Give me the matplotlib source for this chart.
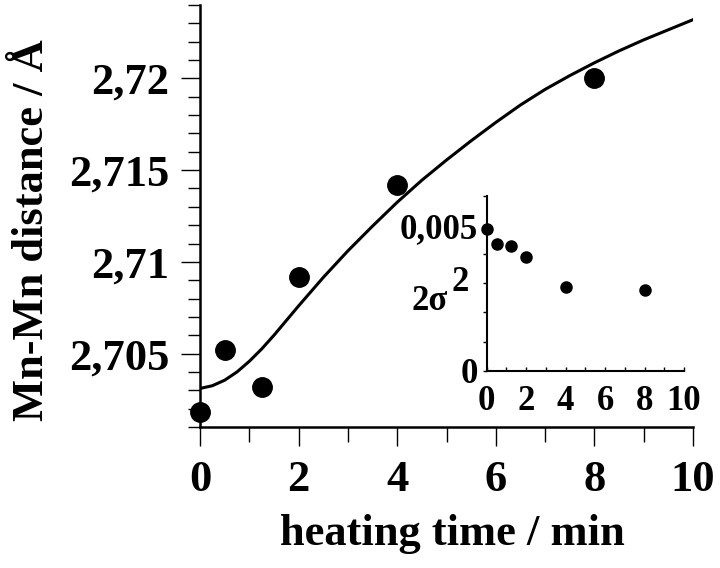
import matplotlib
matplotlib.use('Agg')
import matplotlib.pyplot as plt

plt.rcParams['font.family'] = ['Liberation Serif', 'DejaVu Serif']
plt.rcParams['font.weight'] = 'bold'

# main plot: Mn-Mn distance vs heating time
time_pts = [0, 0.5, 1.25, 2, 4, 8]
dist_pts = [2.7018, 2.7052, 2.7032, 2.7092, 2.7142, 2.7200]

# fitted curve
fit_t = [0, 0.25, 0.5, 0.75, 1, 1.25, 1.5, 1.75, 2, 2.5, 3, 3.5,
         4, 4.5, 5, 5.5, 6, 6.5, 7, 7.5, 8, 8.5, 9, 9.5, 10]
fit_d = [2.70310, 2.70325, 2.70355, 2.70400, 2.70458, 2.70525, 2.70600, 2.70680, 2.70760,
         2.70915, 2.71060, 2.71195, 2.71325, 2.71445, 2.71555, 2.71660, 2.71760, 2.71855,
         2.71940, 2.72015, 2.72085, 2.72150, 2.72210, 2.72265, 2.72320]

xticks = [0, 2, 4, 6, 8, 10]
xminor = [1, 3, 5, 7, 9]
yticks = [2.705, 2.71, 2.715, 2.72]
ylabels = ['2,705', '2,71', '2,715', '2,72']
yminor = [2.701, 2.702, 2.703, 2.704, 2.706, 2.707, 2.708, 2.709, 2.711, 2.712,
          2.713, 2.714, 2.716, 2.717, 2.718, 2.719, 2.721, 2.722, 2.723, 2.724]

# inset: Debye-Waller factor
sig_pts = [0.00485, 0.00436, 0.00427, 0.0039, 0.00286, 0.00276]
in_xticks = [0, 1, 2, 3, 4, 5, 6, 7, 8, 9, 10]
in_xlabels = ['0', '', '2', '', '4', '', '6', '', '8', '', '10']
in_yticks = [0, 0.001, 0.002, 0.003, 0.004, 0.005, 0.006]
in_ylabels = ['0', '', '', '', '', '0,005', '']

fig = plt.figure(figsize=(7.2, 5.68), dpi=100)
ax = fig.add_axes([200 / 720, 1 - 427 / 568, 493 / 720, 422 / 568])

ax.plot(fit_t, fit_d, color='black', lw=2.2, solid_joinstyle='round')
ax.plot(time_pts, dist_pts, 'o', color='black', ms=14, clip_on=False, zorder=5)

ax.set_xlim(0, 10)
ax.set_ylim(2.701, 2.724)
ax.set_xticks(xticks)
ax.set_xticks(xminor, minor=True)
ax.set_yticks(yticks, ylabels)
ax.set_yticks(yminor, minor=True)

for s in ['top', 'right']:
    ax.spines[s].set_visible(False)
for s in ['left', 'bottom']:
    ax.spines[s].set_linewidth(1.8)

ax.tick_params(axis='both', which='major', labelsize=32, width=1.0, length=14, direction='out')
ax.tick_params(axis='x', which='major', pad=10)
ax.tick_params(axis='y', which='major', pad=8)
ax.tick_params(axis='x', which='minor', width=1.0, length=11, direction='out')
ax.tick_params(axis='y', which='minor', width=1.0, length=9, direction='out')

ax.set_xlabel('heating time / min', fontsize=32, fontweight='bold')
ax.set_ylabel('Mn-Mn distance / Å', fontsize=32, fontweight='bold')
ax.xaxis.set_label_coords(0.512, -0.206)
ax.yaxis.set_label_coords(-0.300, 0.467)

# inset
ins = fig.add_axes([486.7 / 720, 1 - 370.7 / 568, 197.3 / 720, 174.7 / 568])
ins.patch.set_alpha(0)
ins.plot(time_pts, sig_pts, 'o', color='black', ms=8, clip_on=False)
ins.set_xlim(0, 10)
ins.set_ylim(0, 0.006)
ins.set_xticks(in_xticks, in_xlabels)
ins.set_yticks(in_yticks, in_ylabels)
for s in ['top', 'right']:
    ins.spines[s].set_visible(False)
for s in ['left', 'bottom']:
    ins.spines[s].set_linewidth(1.5)
ins.tick_params(axis='x', direction='in', length=3, width=1.0, labelsize=25, pad=10)
ins.tick_params(axis='y', direction='out', length=3, width=1.0, labelsize=25, pad=3)

ins.text(-0.196, 0.35, '2σ', transform=ins.transAxes, fontsize=25,
         fontweight='bold', ha='right', va='baseline')
ins.text(-0.180, 0.455, '2', transform=ins.transAxes, fontsize=25,
         fontweight='bold', ha='left', va='baseline')

fig.savefig('out.png', dpi=100)
